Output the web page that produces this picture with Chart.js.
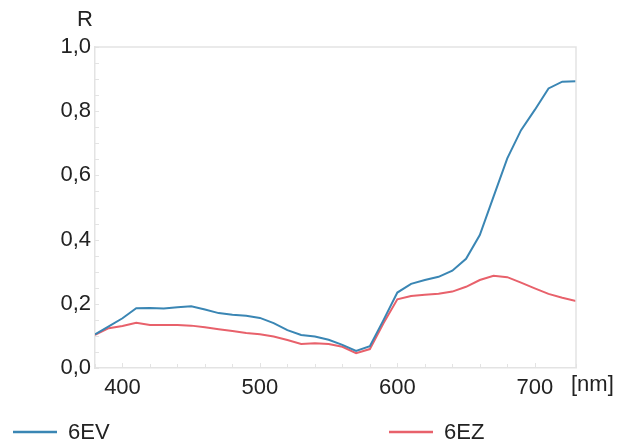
<!DOCTYPE html>
<html>
<head>
<meta charset="utf-8">
<script src="https://cdn.jsdelivr.net/npm/chart.js@4"></script>
<style>
  body { margin: 0; background: #fff; }
</style>
</head>
<body>
<canvas id="spectre" width="619" height="448"></canvas>
<script>
// longueurs d'onde en nm
var wavelengths = [380, 390, 400, 410, 420, 430, 440, 450, 460, 470, 480, 490, 500, 510, 520, 530, 540, 550,
                   560, 570, 580, 590, 600, 610, 620, 630, 640, 650, 660, 670, 680, 690, 700, 710, 720, 730];
var ev = [0.105, 0.130, 0.155, 0.186, 0.187, 0.185, 0.189, 0.192, 0.182, 0.171, 0.166, 0.163, 0.156, 0.140, 0.118, 0.103, 0.098, 0.088,
          0.072, 0.053, 0.068, 0.150, 0.235, 0.262, 0.274, 0.284, 0.303, 0.340, 0.414, 0.534, 0.653, 0.741, 0.804, 0.871, 0.892, 0.893];
var ez = [0.103, 0.124, 0.131, 0.141, 0.134, 0.134, 0.134, 0.132, 0.127, 0.121, 0.115, 0.109, 0.105, 0.098, 0.087, 0.075, 0.077, 0.075,
          0.066, 0.046, 0.059, 0.140, 0.214, 0.224, 0.228, 0.231, 0.238, 0.253, 0.274, 0.287, 0.283, 0.266, 0.248, 0.231, 0.219, 0.209];
var noms = ['6EV', '6EZ'];
var xLabels = [400, 500, 600, 700];
var yLabels = [0, 0.2, 0.4, 0.6, 0.8, 1.0];

var police = '"Liberation Sans", Arial, sans-serif';
var gris = '#e3e3e3';

function pts(vals) {
    var out = [];
    for (var i = 0; i < wavelengths.length; i++) {
        out.push({x: wavelengths[i], y: vals[i]});
    }
    return out;
}

// petits traits vers l'interieur, cadre haut/droite, titres et legende
var decor = {
    id: 'decor',
    afterDraw: function(chart) {
        var ctx = chart.ctx;
        var a = chart.chartArea;
        var sx = chart.scales.x, sy = chart.scales.y;
        ctx.save();
        ctx.strokeStyle = gris;
        ctx.lineWidth = 1.5;
        ctx.beginPath();
        ctx.moveTo(a.left, a.top);
        ctx.lineTo(a.right, a.top);
        ctx.lineTo(a.right, a.bottom);
        ctx.stroke();

        ctx.lineWidth = 1;
        sx.ticks.forEach(function(t) {
            var px = Math.round(sx.getPixelForValue(t.value)) + 0.5;
            var len = (t.value % 100 === 0) ? 5 : 4;
            ctx.beginPath();
            ctx.moveTo(px, a.bottom);
            ctx.lineTo(px, a.bottom - len);
            ctx.stroke();
        });
        sy.ticks.forEach(function(t) {
            var py = Math.round(sy.getPixelForValue(t.value)) + 0.5;
            ctx.beginPath();
            ctx.moveTo(a.left - 1, py);
            ctx.lineTo(a.left + 4, py);
            ctx.stroke();
        });

        ctx.fillStyle = '#222';
        ctx.font = '22px ' + police;
        ctx.textBaseline = 'middle';
        ctx.textAlign = 'center';
        ctx.fillText('R', 85, 20);
        ctx.textAlign = 'left';
        ctx.fillText('[nm]', 571, 385);

        // legende
        var posX = [13, 389];
        chart.data.datasets.forEach(function(ds, i) {
            ctx.strokeStyle = ds.borderColor;
            ctx.lineWidth = 2.5;
            ctx.beginPath();
            ctx.moveTo(posX[i], 432);
            ctx.lineTo(posX[i] + 44, 432);
            ctx.stroke();
            ctx.fillStyle = '#222';
            ctx.fillText(ds.label, posX[i] + 55, 433);
        });
        ctx.restore();
    }
};

var ctx = document.getElementById('spectre').getContext('2d');
var graphe = new Chart(ctx, {
    type: 'line',
    data: {
        datasets: [{
            label: noms[0],
            data: pts(ev),
            borderColor: '#3a86b4',
            borderWidth: 2,
            pointRadius: 0,
            tension: 0
        }, {
            label: noms[1],
            data: pts(ez),
            borderColor: '#e8616b',
            borderWidth: 2,
            pointRadius: 0,
            tension: 0
        }]
    },
    options: {
        responsive: false,
        devicePixelRatio: 1,
        animation: false,
        layout: { padding: { top: 47, right: 43, left: 0, bottom: 0 } },
        plugins: {
            legend: { display: false },
            tooltip: { enabled: false }
        },
        scales: {
            x: {
                type: 'linear',
                min: 380,
                max: 730,
                grid: { drawOnChartArea: false, drawTicks: false },
                border: { color: gris, width: 1.5 },
                ticks: {
                    stepSize: 20,
                    autoSkip: false,
                    maxRotation: 0,
                    padding: 7,
                    color: '#222',
                    font: { family: police, size: 22 },
                    callback: function(v) {
                        return xLabels.indexOf(v) >= 0 ? String(v) : '';
                    }
                },
                afterFit: function(s) { s.height = 80; }
            },
            y: {
                min: 0,
                max: 1,
                grid: { drawOnChartArea: false, drawTicks: false },
                border: { color: gris, width: 1.5 },
                ticks: {
                    stepSize: 0.05,
                    autoSkip: false,
                    padding: 4,
                    color: '#222',
                    font: { family: police, size: 22 },
                    callback: function(v) {
                        for (var i = 0; i < yLabels.length; i++) {
                            if (Math.abs(v - yLabels[i]) < 1e-6) return yLabels[i].toFixed(1).replace('.', ',');
                        }
                        return '';
                    }
                },
                afterFit: function(s) { s.width = 95; }
            }
        }
    },
    plugins: [decor]
});
</script>
</body>
</html>
